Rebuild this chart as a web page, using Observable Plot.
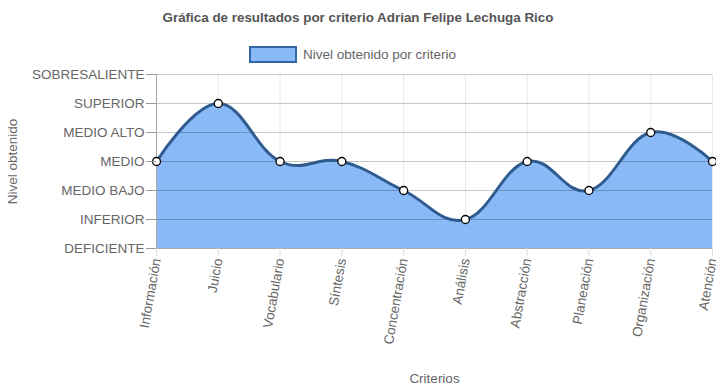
<!DOCTYPE html>
<html>
<head>
<meta charset="utf-8">
<script src="https://cdn.jsdelivr.net/npm/d3@7"></script>
<script src="https://cdn.jsdelivr.net/npm/@observablehq/plot@0.6"></script>
<style>
  body { margin: 0; background: #fff; font-family: "Liberation Sans", Arial, sans-serif; }
  #wrap { width: 716px; height: 391px; position: relative; overflow: hidden; }
  #header { position: relative; height: 64px; }
  #title { position: absolute; left: 0; width: 716px; top: 10px; text-align: center; font-weight: bold; font-size: 13.4px; color: #555; }
  #legend { position: absolute; left: 249px; top: 46px; display: flex; align-items: center; font-size: 13.5px; color: #666; }
  #legend .sw { width: 44px; height: 13px; background: #89b9f7; border: 2.5px solid #3466a6; margin-right: 6px; }
  svg { display: block; overflow: visible; }
</style>
</head>
<body>
<div id="wrap">
  <div id="header">
    <div id="title"></div>
    <div id="legend"><div class="sw"></div><span id="legtext"></span></div>
  </div>
  <div id="chart"></div>
</div>
<script>
const titleText = "Gráfica de resultados por criterio Adrian Felipe Lechuga Rico";
const seriesName = "Nivel obtenido por criterio";
const criterios = ["Información", "Juicio", "Vocabulario", "Síntesis", "Concentración", "Análisis", "Abstracción", "Planeación", "Organización", "Atención"];
const niveles = [3, 5, 3, 3, 2, 1, 3, 2, 4, 3];
const nivelLabels = ["DEFICIENTE", "INFERIOR", "MEDIO BAJO", "MEDIO", "MEDIO ALTO", "SUPERIOR", "SOBRESALIENTE"];
const xTitle = "Criterios";
const yTitle = "Nivel obtenido";

document.getElementById("title").textContent = titleText;
document.getElementById("legtext").textContent = seriesName;

const data = criterios.map((c, i) => ({criterio: c, nivel: niveles[i]}));
const yTicks = nivelLabels.map((_, i) => i);

const chart = Plot.plot({
  width: 716,
  height: 327,
  marginTop: 10,
  marginBottom: 143,
  marginLeft: 156,
  marginRight: 4,
  style: {fontFamily: "'Liberation Sans', Arial, sans-serif", fontSize: "13.5px", color: "#666", background: "#fff"},
  x: {type: "point", domain: criterios, padding: 0, round: false},
  y: {domain: [0, 6]},
  marks: [
    Plot.gridX(criterios, {stroke: "#000", strokeOpacity: 0.09, y1: 0, y2: 6}),
    Plot.areaY(data, {x: "criterio", y1: 0, y2: "nivel", curve: "cardinal", tension: -0.2, fill: "#89b9f7"}),
    Plot.gridY(yTicks, {stroke: "#000", strokeOpacity: 0.22}),
    Plot.ruleX([criterios[0]], {stroke: "#aaa"}),
    Plot.ruleY([0], {stroke: "#aaa"}),
    Plot.line(data, {x: "criterio", y: "nivel", curve: "cardinal", tension: -0.2, stroke: "#2f5b8e", strokeWidth: 3}),
    Plot.dot(data, {x: "criterio", y: "nivel", r: 4, fill: "#fff", stroke: "#000", strokeWidth: 1.3}),
    Plot.axisY({ticks: yTicks, tickFormat: d => nivelLabels[d], tickSize: 10, tickPadding: 2, stroke: "#999", fill: "#666", fontSize: 13.5, label: null}),
    Plot.axisX({tickRotate: -80, tickSize: 8, tickPadding: 2, stroke: "#ddd", fill: "#666", fontSize: 13.5, label: null}),
    Plot.text([yTitle], {frameAnchor: "left", textAnchor: "middle", dx: -144, rotate: -90, fontSize: 13.5, fill: "#666"}),
    Plot.text([xTitle], {frameAnchor: "bottom", dy: 134, fontSize: 13.5, fill: "#666"})
  ]
});
document.getElementById("chart").appendChild(chart);
</script>
</body>
</html>
